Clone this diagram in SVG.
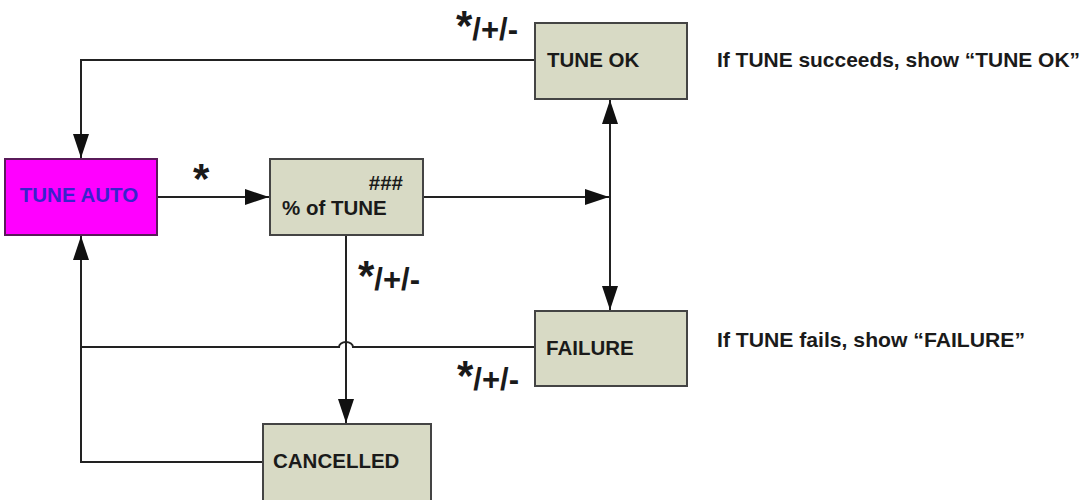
<svg xmlns="http://www.w3.org/2000/svg" width="1088" height="500" viewBox="0 0 1088 500">
<style>
.box{fill:#D8DAC5;stroke:#444;stroke-width:2}
.t{font-family:"Liberation Sans",Arial,sans-serif;font-weight:bold;font-size:20.5px;fill:#1a1a1a}
.note{font-family:"Liberation Sans",Arial,sans-serif;font-weight:bold;font-size:20.5px;fill:#1a1a1a}
.lbl{font-family:"Liberation Sans",Arial,sans-serif;font-weight:bold;fill:#1a1a1a}
.star{font-size:42px}
.sub{font-size:31px}
.c{fill:none;stroke:#222;stroke-width:2}
</style>
<defs>
<marker id="ah" markerUnits="userSpaceOnUse" markerWidth="24" markerHeight="16" refX="24" refY="8" orient="auto">
<path d="M0,0 L24,8 L0,16 Z" fill="#111"/>
</marker>
</defs>
<rect width="1088" height="500" fill="#fff"/>
<g id="connectors">
<path class="c" d="M535,60 H81 V158" marker-end="url(#ah)"/>
<path class="c" d="M157,197 H269" marker-end="url(#ah)"/>
<path class="c" d="M423,197 H609" marker-end="url(#ah)"/>
<path class="c" d="M610,200 V100" marker-end="url(#ah)"/>
<path class="c" d="M610,195 V310" marker-end="url(#ah)"/>
<path class="c" d="M346,235 V423" marker-end="url(#ah)"/>
<path class="c" d="M535,347 H353 A7,5 0 0 0 339,347 H81"/>
<path class="c" d="M263,462 H81 V236" marker-end="url(#ah)"/>
</g>
<g id="edge-labels">
<text class="lbl" x="193" y="193"><tspan class="star">*</tspan></text>
<text class="lbl" x="456" y="40"><tspan class="star">*</tspan><tspan class="sub">/+/-</tspan></text>
<text class="lbl" x="358" y="290"><tspan class="star">*</tspan><tspan class="sub">/+/-</tspan></text>
<text class="lbl" x="457" y="390"><tspan class="star">*</tspan><tspan class="sub">/+/-</tspan></text>
</g>
<g id="tune-auto">
<rect x="5" y="159" width="152" height="76" fill="#FF00FF" stroke="#5a1a5a" stroke-width="2"/>
<text class="t" x="79" y="202" text-anchor="middle" fill="#3a22cc" style="fill:#3a22cc">TUNE AUTO</text>
</g>
<g id="percent-tune">
<rect class="box" x="270" y="159" width="153" height="76"/>
<text class="t" x="403" y="190" text-anchor="end">###</text>
<text class="t" x="282" y="215">% of TUNE</text>
</g>
<g id="tune-ok">
<rect class="box" x="535" y="23" width="152" height="76"/>
<text class="t" x="547" y="67">TUNE OK</text>
</g>
<g id="failure">
<rect class="box" x="535" y="311" width="152" height="75"/>
<text class="t" x="546" y="355">FAILURE</text>
</g>
<g id="cancelled">
<rect class="box" x="263" y="424" width="168" height="78"/>
<text class="t" x="273" y="468">CANCELLED</text>
</g>
<g id="notes">
<text class="note" x="717" y="67" textLength="363" lengthAdjust="spacingAndGlyphs">If TUNE succeeds, show “TUNE OK”</text>
<text class="note" x="717" y="347" textLength="308" lengthAdjust="spacingAndGlyphs">If TUNE fails, show “FAILURE”</text>
</g>
</svg>
